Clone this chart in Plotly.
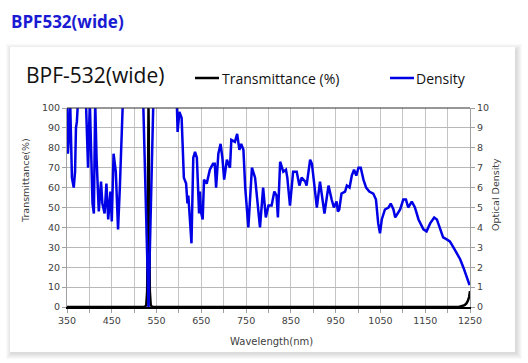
import plotly.graph_objects as go

# ---------------- data ----------------
dens_wl = [350, 352, 355, 357, 361, 365, 368, 370, 372, 375,
           392, 397, 401, 407, 410, 413, 416, 421, 426, 429, 434, 438, 442, 447, 450, 454, 459, 464, 468, 471, 475,
           520, 532, 543,
           595, 597, 601, 606, 611, 616, 619, 621, 625, 628, 632, 636, 640, 645, 647, 649, 653, 656, 662, 669, 676,
           680, 683, 688, 693, 697, 701, 707, 714, 717, 725, 730, 735, 739, 744, 748, 755, 763, 770, 777, 781, 788,
           794, 800, 807, 813, 818, 821, 826, 833, 839, 842, 848, 855, 863, 869, 874, 882, 885, 893, 897, 908, 915,
           925, 934, 941, 946, 952, 955, 958, 963, 971, 975, 981, 986, 991, 996, 1001, 1006, 1012, 1018, 1025, 1034,
           1040, 1045, 1049, 1053, 1060, 1068, 1073, 1079, 1083, 1094, 1101, 1107, 1112, 1120, 1127, 1135, 1146,
           1153, 1161, 1170, 1176, 1183, 1190, 1198, 1205, 1213, 1220, 1228, 1235, 1243, 1249]
dens_od = [10.4, 7.7, 8.8, 10.4, 6.5, 6.0, 6.8, 9.0, 9.3, 10.5,
           10.5, 7.0, 10.3, 5.2, 4.7, 10.3, 7.5, 4.8, 6.3, 5.2, 4.7, 6.2, 4.4, 5.8, 4.3, 7.7, 6.8, 3.9, 6.0, 8.7, 10.5,
           10.5, 0.0, 10.5,
           10.5, 8.8, 9.8, 9.5, 6.5, 6.2, 5.2, 5.6, 4.0, 3.2, 7.5, 7.8, 7.5, 4.7, 5.8, 4.8, 4.4, 6.4, 6.2, 6.9, 7.2,
           7.2, 6.0, 7.7, 8.2, 7.5, 6.4, 7.4, 7.0, 8.4, 8.3, 8.7, 7.9, 8.2, 7.9, 6.0, 4.0, 7.0, 6.5, 4.9, 4.0, 6.0,
           4.5, 5.1, 5.1, 5.8, 5.6, 4.5, 7.3, 6.8, 6.9, 6.5, 5.1, 6.8, 6.8, 6.1, 6.5, 6.3, 6.1, 7.4, 7.2, 5.0, 6.3,
           4.7, 6.1, 5.4, 5.0, 5.3, 4.8, 4.9, 5.7, 5.8, 6.1, 6.0, 6.6, 6.9, 6.6, 7.0, 7.0, 6.4, 6.0, 5.8, 5.7,
           5.4, 4.2, 3.7, 4.4, 4.9, 5.0, 5.2, 4.9, 4.5, 4.9, 5.4, 5.4, 5.0, 5.3, 5.0, 4.4, 3.9,
           3.8, 4.2, 4.5, 4.4, 3.9, 3.5, 3.4, 3.3, 3.0, 2.7, 2.4, 2.0, 1.5, 1.1]

trans_wl = [350, 524, 527, 529, 530.5, 531.5, 532, 532.5, 533.5, 535, 537, 540, 1225, 1232, 1238, 1242, 1245, 1248, 1250]
trans_pct = [0, 0, 1, 8, 45, 90, 100, 90, 45, 8, 1, 0, 0, 0.3, 0.9, 1.8, 3.0, 5.0, 8.0]

x_tickvals = list(range(350, 1251, 50))
x_ticktext = [str(v) if (v - 350) % 100 == 0 else "" for v in x_tickvals]

# ---------------- figure ----------------
W, H = 528, 363
L, R, T, B = 67, 470, 108, 307

def px(x):
    return (x - L) / (R - L)

def py(y):
    return (B - y) / (B - T)

fig = go.Figure()
fig.add_trace(go.Scatter(x=trans_wl, y=trans_pct, mode="lines", name="Transmittance (%)",
                         line=dict(color="#000000", width=2.5), yaxis="y"))
fig.add_trace(go.Scatter(x=dens_wl, y=dens_od, mode="lines", name="Density",
                         line=dict(color="#0000e6", width=2.5), yaxis="y2"))

tickfont = dict(family="DejaVu Sans", size=9.5, color="#404040")

fig.update_layout(
    width=W, height=H,
    margin=dict(l=L, r=W - R, t=T, b=H - B, pad=0),
    paper_bgcolor="white", plot_bgcolor="rgba(0,0,0,0)",
    showlegend=False,
    xaxis=dict(range=[350, 1250], tickvals=x_tickvals, ticktext=x_ticktext,
               showgrid=True, gridcolor="#c4c4c4", gridwidth=1,
               ticks="outside", ticklen=4, tickcolor="#a0a0a0",
               showline=True, linecolor="#000000", linewidth=1.5,
               tickfont=tickfont, zeroline=False, fixedrange=True),
    yaxis=dict(range=[0, 100], dtick=10, showgrid=True, gridcolor="#b8b8b8", gridwidth=1,
               ticks="outside", ticklen=4, tickcolor="#a0a0a0",
               showline=True, linecolor="#a0a0a0", linewidth=1,
               tickfont=tickfont, zeroline=False),
    yaxis2=dict(range=[0, 10], dtick=1, overlaying="y", side="right", showgrid=False,
                ticks="outside", ticklen=4, tickcolor="#a0a0a0",
                showline=True, linecolor="#a0a0a0", linewidth=1,
                tickfont=tickfont, zeroline=False),
)

shapes = []
# soft card shadow (offset down/right)
cx0, cx1, cy0, cy1 = 10, 515, 47, 352
shadow = ["#f9f9f9", "#f4f4f4", "#eeeeee", "#e8e8e8", "#e2e2e2", "#dcdcdc"]
n = len(shadow)
for i, col in enumerate(shadow):
    o = n - i
    shapes.append(dict(type="rect", xref="paper", yref="paper", layer="below",
                       x0=px(cx0 - o + 2), x1=px(cx1 + o + 1), y0=py(cy1 + o + 1), y1=py(cy0 - o + 3),
                       line=dict(width=0), fillcolor=col))
shapes.append(dict(type="rect", xref="paper", yref="paper", layer="below",
                   x0=px(cx0), x1=px(cx1), y0=py(cy1), y1=py(cy0),
                   line=dict(width=0), fillcolor="white"))
# top border of plot
shapes.append(dict(type="line", xref="paper", yref="paper", x0=0, x1=1, y0=1, y1=1,
                   line=dict(color="#303030", width=1.2)))
# legend keys
shapes.append(dict(type="line", xref="paper", yref="paper", x0=px(195), x1=px(219), y0=py(78), y1=py(78),
                   line=dict(color="#000000", width=2.5)))
shapes.append(dict(type="line", xref="paper", yref="paper", x0=px(390), x1=px(414), y0=py(78), y1=py(78),
                   line=dict(color="#0000e6", width=2.5)))
fig.update_layout(shapes=shapes)

ann = []
ann.append(dict(text="<b>BPF532(wide)</b>", xref="paper", yref="paper", x=px(9), y=py(21),
                xanchor="left", yanchor="middle", showarrow=False,
                font=dict(family="Open Sans", size=17, color="#1a1ad2")))
ann.append(dict(text="BPF-532(wide)", xref="paper", yref="paper", x=px(24), y=py(75),
                xanchor="left", yanchor="middle", showarrow=False,
                font=dict(family="Open Sans", size=21, color="#111111")))
ann.append(dict(text="Transmittance (%)", xref="paper", yref="paper", x=px(220), y=py(78),
                xanchor="left", yanchor="middle", showarrow=False,
                font=dict(family="Open Sans", size=14, color="#111111")))
ann.append(dict(text="Density", xref="paper", yref="paper", x=px(414), y=py(78),
                xanchor="left", yanchor="middle", showarrow=False,
                font=dict(family="Open Sans", size=14, color="#111111")))
ann.append(dict(text="Wavelength(nm)", xref="paper", yref="paper", x=px(271), y=py(341),
                xanchor="center", yanchor="middle", showarrow=False,
                font=dict(family="DejaVu Sans", size=10, color="#404040")))
ann.append(dict(text="Transmittance(%)", xref="paper", yref="paper", x=px(25), y=py(181),
                xanchor="center", yanchor="middle", showarrow=False, textangle=-90,
                font=dict(family="DejaVu Sans", size=9.5, color="#404040")))
ann.append(dict(text="Optical Density", xref="paper", yref="paper", x=px(495), y=py(195),
                xanchor="center", yanchor="middle", showarrow=False, textangle=-90,
                font=dict(family="DejaVu Sans", size=9.5, color="#404040")))
fig.update_layout(annotations=ann)

fig.write_html("out.html", config={"displayModeBar": False},
               post_script="document.body.style.margin='0';document.body.style.overflow='hidden';")
